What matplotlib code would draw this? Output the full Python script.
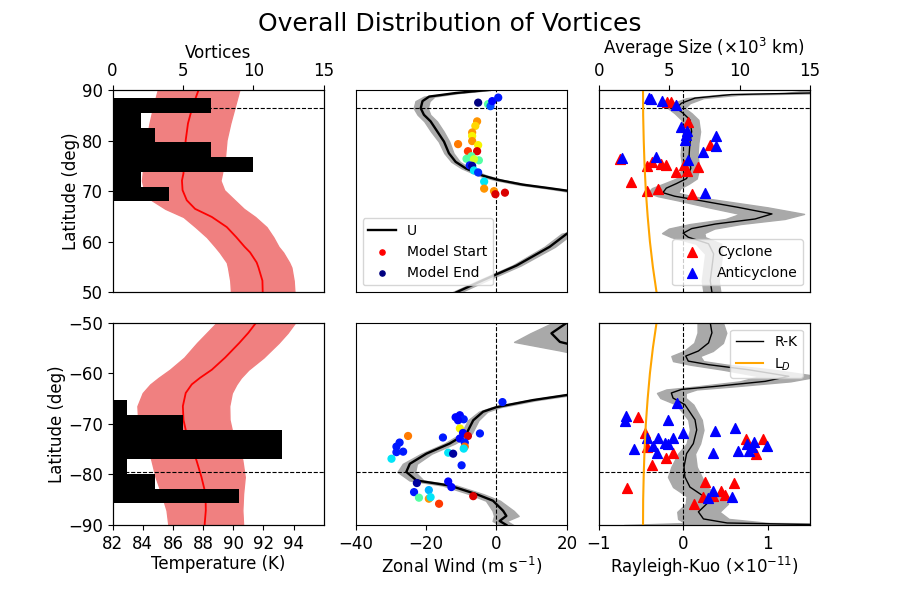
import numpy as np
import matplotlib
matplotlib.use("Agg")
from matplotlib import pyplot as plt

# ---- temperature profiles (lat, lower edge, T, upper edge)
tn_lat = [90, 86.7, 83.4, 80.1, 76.8, 73.5, 72.1, 70.2, 68.2, 66.5, 64.9, 62.9, 60.9, 59.0,
          57.9, 55.9, 54.9, 52.3, 50.0]
tn_lo = [85.0, 84.7, 84.45, 84.25, 84.1, 84.0, 83.95, 84.1, 84.6, 85.5, 86.7, 87.5, 88.25, 88.8,
         89.1, 89.57, 89.65, 89.8, 89.85]
tn_T = [87.7, 87.3, 87.0, 86.85, 86.75, 86.7, 86.6, 86.64, 86.92, 87.47, 88.58, 89.57, 90.2, 90.75,
        91.11, 91.55, 91.67, 91.93, 91.95]
tn_hi = [90.4, 90.1, 89.8, 89.55, 89.45, 89.25, 89.15, 89.4, 90.1, 90.7, 91.45, 92.2, 92.65, 93.0,
         93.3, 93.7, 93.85, 94.0, 94.05]
ts_lat = [-50.0, -52.0, -54.0, -56.9, -59.3, -60.9, -62.2, -63.9, -66.5, -69.2, -71.2, -73.9,
          -77.2, -80.5, -83.8, -87.1, -90.0]
ts_lo = [88.9, 88.25, 87.6, 86.75, 85.8, 85.05, 84.5, 84.0, 83.65, 83.7, 83.9, 84.25,
         84.58, 84.85, 85.24, 85.58, 85.7]
ts_T = [91.51, 91.0, 90.4, 89.46, 88.58, 87.8, 87.25, 86.85, 86.66, 86.7, 86.85, 87.12,
        87.56, 87.89, 88.16, 88.18, 88.1]
ts_hi = [94.09, 93.6, 93.0, 92.0, 91.0, 90.5, 90.2, 89.9, 89.73, 89.75, 89.9, 90.32,
         90.6, 90.76, 90.65, 90.6, 90.65]

# ---- vortex counts per latitude bin
hn_edges = np.linspace(68.0, 88.35, 8)
hn_counts = [4, 2, 10, 7, 3, 2, 7]
hs_edges = np.linspace(-85.7, -65.3, 8)
hs_counts = [9, 3, 1, 12, 12, 5, 1]

# ---- zonal wind (lat, U, spread)
un_lat = [90.0, 89.9, 89.4, 88.7, 87.8, 86.4, 85.1, 83.8, 81.8, 79.8, 77.5, 75.8, 74.5, 73.1,
          72.2, 71.3, 70.6, 70.1, 69.0, 67.5, 65.5, 63.5, 62.3, 61.6, 59.0, 55.3, 52.4, 50.0]
un_U = [-2.5, -4.0, -11.6, -19.1, -21.0, -21.5, -20.6, -18.7, -16.8, -14.9, -13.5, -11.6, -8.7, -4.0,
        0.7, 7.4, 14.9, 20, 30, 36, 37, 31, 25, 20, 15.1, 5.7, -3.8, -11.4]
un_s = [0.8, 0.8, 1.0, 1.5, 2.0, 2.0, 1.8, 1.8, 1.8, 1.5, 1.3, 1.2, 1.2, 1.2,
        1.2, 1.2, 1.2, 1.5, 2, 2, 2, 2, 2, 1.5, 1.5, 1.2, 1.2, 1.2]
us_lat = [-50, -52.1, -53.8, -55.5, -58, -61, -63, -64.3, -65.3, -66.7, -67.6, -69.3, -71.9,
          -73.9, -75.9, -77.9, -79.5, -81.2, -82.2, -83.9, -85.2, -87.2, -88.2, -89.2, -90]
us_U = [20, 15.6, 18, 28, 40, 42, 30, 20, 10.4, 0, -3.8, -6.6, -8.5,
        -13.3, -19.9, -24.6, -25.6, -22.7, -13.3, -5.7, -1, 1.9, 2.8, 0.9, 2.8]
us_s = [4, 6, 13, 10, 5, 3, 2, 1.5, 1.2, 1.2, 1.2, 1.5, 1.5,
        1.5, 1.5, 2, 2.5, 2, 2, 2, 2, 3, 3.5, 2, 2]

# ---- tracked vortices in the wind panel (U, lat, colour value: 1 = model start, 0 = model end)
pn_U = [-5.2, -2.4, -1.7, -1.2, 0.5, -5.5, -6.0, -6.9, -6.9, -6.9, -10.9, -5.2, -8.1, -5.5,
        -8.5, -7.1, -5.0, -6.4, -7.6, -6.9, -6.4, -5.2, -3.5, -3.5, -0.7, -0.3, 2.4]
pn_lat = [87.5, 87.2, 86.8, 87.8, 88.5, 83.8, 82.9, 81.6, 80.9, 79.9, 79.3, 79.1, 77.9, 77.9,
          76.4, 76.9, 76.1, 76.3, 75.1, 75.0, 74.1, 73.7, 71.9, 70.5, 70.0, 69.4, 69.7]
pn_c = [0.0, 0.45, 0.2, 0.13, 0.15, 0.75, 0.68, 0.75, 0.65, 0.75, 0.78, 0.65, 0.85, 0.92,
        0.45, 0.45, 0.45, 0.6, 0.15, 0.03, 0.35, 0.17, 0.35, 0.75, 0.75, 0.92, 0.92]
ps_U = [1.7, -11.6, -10.4, -9.3, -10.9, -10.4, -9.5, -8.1, -10.4, -4.7, -15.2, -25.1, -9.0,
        -9.0, -9.3, -27.5, -28.4, -26.5, -28.4, -29.8, -13.7, -12.3, -9.9, -22.6, -13.7,
        -12.8, -23.4, -19.2, -22.0, -19.2, -18.7, -16.3, -6.6]
ps_lat = [-65.7, -68.7, -68.3, -69.1, -69.3, -70.9, -71.8, -72.4, -72.9, -71.9, -72.7, -72.4, -73.7,
          -74.5, -74.9, -73.7, -74.5, -75.5, -75.6, -76.9, -75.7, -75.9, -78.2, -81.7, -81.4,
          -82.5, -83.5, -83.1, -84.6, -84.8, -84.5, -85.8, -84.3]
ps_c = [0.15, 0.13, 0.13, 0.15, 0.13, 0.65, 0.13, 0.92, 0.13, 0.15, 0.15, 0.78, 0.15,
        0.8, 0.35, 0.15, 0.15, 0.15, 0.15, 0.35, 0.35, 0.03, 0.15, 0.03, 0.13,
        0.13, 0.15, 0.3, 0.45, 0.75, 0.35, 0.85, 0.92]

# ---- Rayleigh-Kuo (lat, RK, spread)
rn_lat = [90, 89.4, 89.1, 88.4, 87.4, 86.4, 85.4, 84.1, 81.8, 79.5, 77.2, 74.5, 72.5, 71.5,
          70.6, 69.7, 69.0, 68.2, 66.8, 65.5, 64.5, 63.5, 62.6, 61.7, 60.9, 59.6, 57.6,
          54.9, 52.3, 50.0]
rn_RK = [3.0, 1.5, 0.57, 0.14, -0.02, -0.08, 0.0, 0.08, 0.1, 0.08, 0.07, 0.09, 0.04, -0.08,
         -0.2, -0.24, -0.1, 0.18, 0.65, 1.05, 0.85, 0.38, 0.1, 0.0, 0.06, 0.3, 0.36,
         0.34, 0.32, 0.34]
rn_s = [1.5, 0.3, 0.12, 0.1, 0.1, 0.1, 0.1, 0.1, 0.1, 0.1, 0.1, 0.1, 0.12, 0.15,
        0.17, 0.18, 0.2, 0.25, 0.35, 0.38, 0.35, 0.3, 0.27, 0.25, 0.2, 0.15, 0.1,
        0.1, 0.1, 0.1]
rs_lat = [-50.0, -52.0, -54.0, -55.6, -56.6, -57.6, -58.3, -59.3, -60.6, -61.6, -62.6, -63.2, -63.9,
          -64.9, -66.2, -69.2, -71.2, -73.9, -75.9, -78.5, -80.5, -82.5, -84.3, -85.8, -87.4,
          -88.8, -89.6, -90]
rs_RK = [0.32, 0.34, 0.3, 0.18, 0.03, 0.06, 0.3, 0.77, 1.25, 0.97, 0.38, -0.02, -0.14,
         -0.12, 0.02, 0.14, 0.16, 0.12, 0.04, 0.01, 0.02, 0.08, 0.24, 0.28, 0.18,
         0.24, 0.52, 1.8]
rs_s = [0.15, 0.17, 0.17, 0.17, 0.17, 0.18, 0.22, 0.3, 0.35, 0.3, 0.22, 0.18, 0.17,
        0.15, 0.1, 0.08, 0.08, 0.08, 0.1, 0.15, 0.2, 0.2, 0.2, 0.25, 0.25,
        0.3, 0.5, 2.5]

# ---- deformation radius (size axis)
ld_lat = [90, 85, 80, 75, 70, 65, 60, 55, 50]
ld_val = [3.15, 3.16, 3.2, 3.26, 3.35, 3.48, 3.64, 3.85, 4.11]

# ---- vortex sizes (size, lat)
cn_size = [4.87, 5.13, 6.33, 7.87, 1.5, 3.76, 3.4, 4.42, 4.78, 6.06, 7.08, 5.49, 6.25, 2.28, 3.45, 4.23, 6.61]
cn_lat = [87.6, 87.6, 83.7, 79.2, 76.4, 75.8, 74.9, 75.3, 75.2, 75.2, 74.7, 73.8, 73.9, 71.8, 70.0, 70.5, 69.5]
an_size = [3.59, 3.71, 4.47, 5.49, 5.85, 6.25, 6.18, 6.13, 8.35, 8.35, 7.4, 4.04, 1.66, 6.33, 7.56]
an_lat = [88.35, 88.2, 87.8, 87.0, 82.7, 81.9, 81.1, 80.1, 80.9, 79.0, 77.8, 76.8, 76.6, 76.2, 69.7]
cs_size = [2.8, 3.28, 3.45, 4.78, 5.3, 3.76, 10.46, 11.65, 11.2, 2.02, 7.56, 9.59, 8.7, 8.94, 8.15, 7.44, 6.8]
cs_lat = [-68.7, -71.9, -74.6, -76.8, -75.7, -78.2, -73.0, -72.9, -76.0, -82.6, -81.5, -81.6,
          -83.2, -84.1, -84.2, -84.4, -85.8]
as_size = [5.59, 1.97, 1.85, 4.94, 9.65, 8.27, 5.97, 3.4, 4.23, 5.3, 3.87, 4.71, 4.94, 2.5,
           4.12, 8.15, 9.89, 10.53, 11.0, 11.96, 10.65, 10.9, 8.15, 7.73, 9.46]
as_lat = [-65.9, -68.5, -69.4, -69.2, -70.9, -71.4, -71.8, -72.8, -72.8, -72.8, -74.4, -73.8, -73.9,
          -74.9, -75.7, -75.7, -75.4, -73.9, -73.5, -74.4, -75.4, -74.6, -83.3, -84.6, -84.5]

hline_n = 86.4
hline_s = -79.5

plt.rcParams['font.size'] = 12
plt.rcParams['axes.labelpad'] = 1.5

fig, axes = plt.subplots(2, 3, figsize=(9, 6))
fig.subplots_adjust(left=0.125, right=0.9, top=0.85, bottom=0.125, wspace=0.15, hspace=0.15)
fig.suptitle('Overall Distribution of Vortices', fontsize=18)

rows = [
    dict(tlat=tn_lat, T=tn_T, lo=tn_lo, hi=tn_hi, edges=hn_edges, counts=hn_counts,
         ulat=un_lat, U=un_U, us=un_s, pU=pn_U, plat=pn_lat, pc=pn_c,
         rlat=rn_lat, RK=rn_RK, rs=rn_s, ldlat=ld_lat,
         csz=cn_size, clat=cn_lat, asz=an_size, alat=an_lat, hl=hline_n, ylim=(50, 90)),
    dict(tlat=ts_lat, T=ts_T, lo=ts_lo, hi=ts_hi, edges=hs_edges, counts=hs_counts,
         ulat=us_lat, U=us_U, us=us_s, pU=ps_U, plat=ps_lat, pc=ps_c,
         rlat=rs_lat, RK=rs_RK, rs=rs_s, ldlat=[-l for l in ld_lat],
         csz=cs_size, clat=cs_lat, asz=as_size, alat=as_lat, hl=hline_s, ylim=(-90, -50)),
]

for r, d in enumerate(rows):
    top = (r == 0)
    yt = np.arange(d['ylim'][0], d['ylim'][1] + 1, 10)

    # temperature + histogram
    ax = axes[r, 0]
    ax.fill_betweenx(d['tlat'], d['lo'], d['hi'], color='lightcoral')
    ax.plot(d['T'], d['tlat'], color='red', lw=1.3)
    ax.axhline(d['hl'], color='k', ls='--', lw=0.8)
    ax.set_xlim(82, 96)
    ax.set_xticks(np.arange(82, 96, 2))
    ax.set_ylim(*d['ylim'])
    ax.set_yticks(yt)
    ax.set_ylabel('Latitude (deg)')
    axh = ax.twiny()
    axh.barh(d['edges'][:-1], d['counts'], height=np.diff(d['edges']), align='edge', color='k')
    axh.set_xlim(0, 15)
    axh.set_xticks([0, 5, 10, 15])
    if top:
        ax.tick_params(bottom=False, labelbottom=False)
        axh.set_xlabel('Vortices', labelpad=3)
    else:
        axh.tick_params(top=False, labeltop=False)
        ax.set_xlabel('Temperature (K)')

    # zonal wind
    ax = axes[r, 1]
    U = np.array(d['U']); s = np.array(d['us'])
    ax.fill_betweenx(d['ulat'], U - s, U + s, color='darkgray')
    ax.plot(U, d['ulat'], color='k', lw=1.7, label='U')
    ax.axhline(d['hl'], color='k', ls='--', lw=0.8)
    ax.axvline(0, color='k', ls='--', lw=0.8)
    ax.scatter(d['pU'], d['plat'], c=d['pc'], cmap='jet', vmin=0, vmax=1, s=24, zorder=3)
    ax.set_xlim(-40, 20)
    ax.set_ylim(*d['ylim'])
    ax.set_yticks([])
    if top:
        ax.set_xticks([])
        ax.scatter([], [], color='red', s=14, label='Model Start')
        ax.scatter([], [], color='navy', s=14, label='Model End')
        ax.legend(loc='lower left', fontsize=10)
    else:
        ax.set_xticks([-40, -20, 0, 20])
        ax.set_xlabel('Zonal Wind (m s$^{-1}$)')

    # Rayleigh-Kuo + sizes
    ax = axes[r, 2]
    RK = np.array(d['RK']); s = np.array(d['rs'])
    ax.fill_betweenx(d['rlat'], RK - s, RK + s, color='darkgray')
    l1, = ax.plot(RK, d['rlat'], color='k', lw=1, label='R-K')
    ax.axhline(d['hl'], color='k', ls='--', lw=0.8)
    ax.axvline(0, color='k', ls='--', lw=0.8)
    ax.set_xlim(-1, 1.5)
    ax.set_xticks([-1, 0, 1])
    ax.set_ylim(*d['ylim'])
    ax.set_yticks([])
    axs = ax.twiny()
    l2, = axs.plot(ld_val, d['ldlat'], color='orange', label='L$_D$')
    sc1 = axs.scatter(d['csz'], d['clat'], marker='^', color='red', s=50, label='Cyclone')
    sc2 = axs.scatter(d['asz'], d['alat'], marker='^', color='blue', s=50, label='Anticyclone')
    axs.set_xlim(0, 15)
    axs.set_xticks([0, 5, 10, 15])
    axs.set_ylim(*d['ylim'])
    if top:
        ax.tick_params(bottom=False, labelbottom=False)
        axs.set_xlabel('Average Size ($\\times10^3$ km)', labelpad=6)
        axs.legend([sc1, sc2], ['Cyclone', 'Anticyclone'], loc='lower right', fontsize=10)
    else:
        axs.tick_params(top=False, labeltop=False)
        ax.set_xlabel('Rayleigh-Kuo ($\\times10^{-11}$)')
        axs.legend([l1, l2], ['R-K', 'L$_D$'], loc='upper right', fontsize=10)

fig.savefig('out.png', dpi=100)
